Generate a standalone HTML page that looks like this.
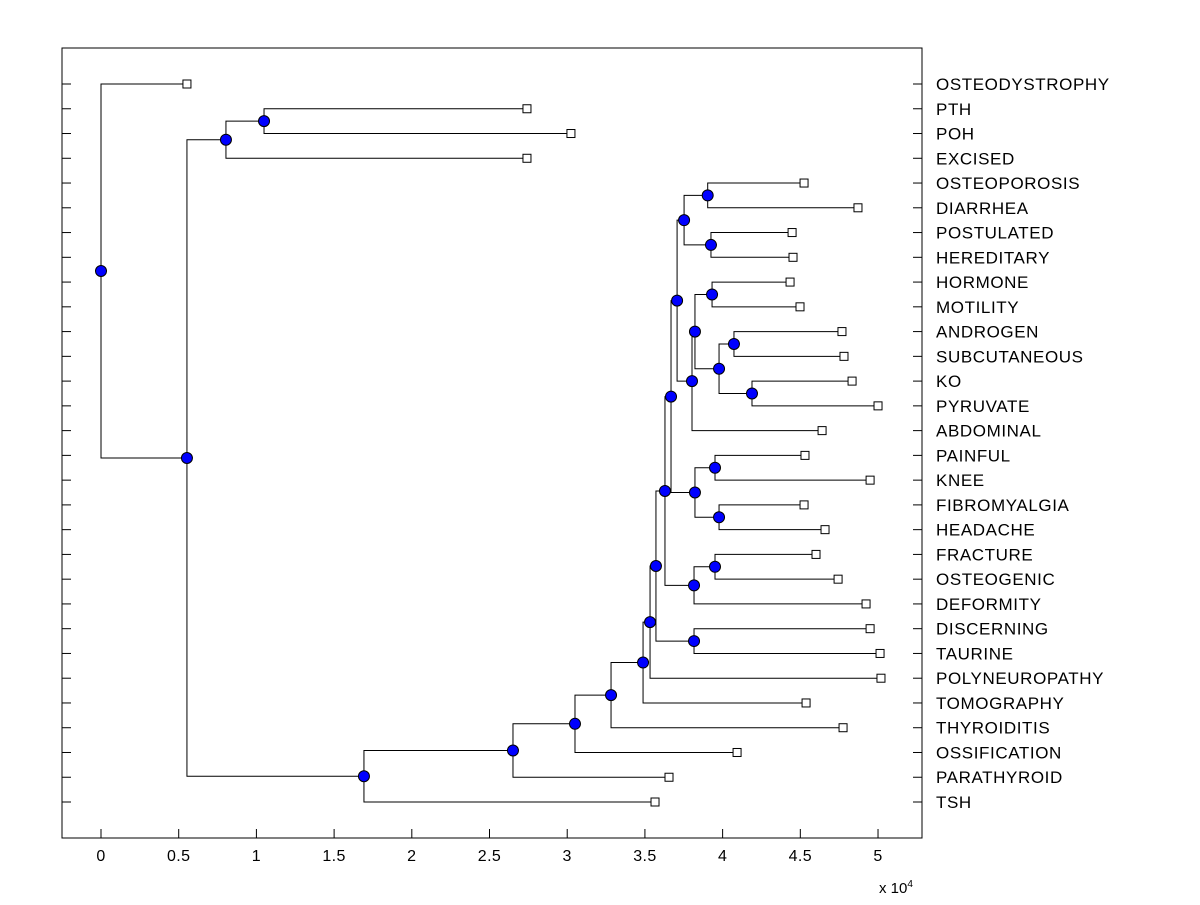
<!DOCTYPE html>
<html><head><meta charset="utf-8"><style>
body{margin:0;background:#fff;}
svg text{font-family:"Liberation Sans",sans-serif;}
</style></head><body>
<svg id="chart" width="1200" height="900" xmlns="http://www.w3.org/2000/svg">
<rect x="0" y="0" width="1200" height="900" fill="#fff"/>
<g id="plot"></g>
</svg>
<script>
const labels = ["OSTEODYSTROPHY","PTH","POH","EXCISED","OSTEOPOROSIS","DIARRHEA","POSTULATED","HEREDITARY","HORMONE","MOTILITY","ANDROGEN","SUBCUTANEOUS","KO","PYRUVATE","ABDOMINAL","PAINFUL","KNEE","FIBROMYALGIA","HEADACHE","FRACTURE","OSTEOGENIC","DEFORMITY","DISCERNING","TAURINE","POLYNEUROPATHY","TOMOGRAPHY","THYROIDITIS","OSSIFICATION","PARATHYROID","TSH"];
const leafHeights = [0.553,2.741,3.024,2.741,4.524,4.871,4.447,4.453,4.434,4.498,4.768,4.781,4.833,5.0,4.640,4.530,4.949,4.524,4.659,4.601,4.743,4.923,4.949,5.013,5.019,4.537,4.775,4.093,3.655,3.565];
const mergeLeft  = [1,30,4,6,32,8,10,12,36,35,39,34,15,17,42,41,19,46,45,22,48,50,51,52,53,54,55,31,0];
const mergeRight = [2,3,5,7,33,9,11,13,37,38,14,40,16,18,43,44,20,21,47,23,49,24,25,26,27,28,29,56,57];
const mergeHeights = [1.049,0.804,3.904,3.925,3.752,3.932,4.073,4.189,3.977,3.822,3.803,3.707,3.951,3.977,3.822,3.668,3.951,3.816,3.629,3.816,3.571,3.533,3.488,3.282,3.050,2.651,1.692,0.553,0];
const xTicks = [0,0.5,1,1.5,2,2.5,3,3.5,4,4.5,5];
const xTickLabels = ["0","0.5","1","1.5","2","2.5","3","3.5","4","4.5","5"];

const L=62,R=922,T=48,B=838;
const xMin=-0.251,xMax=5.283;
const X=v=>L+(v-xMin)/(xMax-xMin)*(R-L);
const row0=84,rowStep=(802-84)/29;
const Y=i=>row0+i*rowStep;
const NS="http://www.w3.org/2000/svg";
const g=document.getElementById('plot');
function mk(tag,attrs){const e=document.createElementNS(NS,tag);for(const k in attrs)e.setAttribute(k,attrs[k]);g.appendChild(e);return e;}

const n=labels.length;
const nx=[],ny=[];
for(let i=0;i<n;i++){nx[i]=leafHeights[i];ny[i]=Y(i);}
for(let k=0;k<mergeHeights.length;k++){const a=mergeLeft[k],b=mergeRight[k];nx[n+k]=mergeHeights[k];ny[n+k]=(ny[a]+ny[b])/2;}

for(let k=0;k<mergeHeights.length;k++){
  const a=mergeLeft[k],b=mergeRight[k],hx=X(mergeHeights[k]);
  const p=mk('path',{d:`M${X(nx[a])},${ny[a]}H${hx}V${ny[b]}H${X(nx[b])}`,fill:'none',stroke:'#000','stroke-width':1});
  
  
}
const box=mk('rect',{x:L,y:T,width:R-L,height:B-T,fill:'none',stroke:'#000','stroke-width':1});


xTicks.forEach((v,i)=>{
  const x=X(v);
  const t1=mk('line',{x1:x,y1:B,x2:x,y2:B-9,stroke:'#000'});
  
  
  const tl=mk('text',{x:x,y:861,'text-anchor':'middle','font-size':16,'letter-spacing':0.4});
  tl.textContent=xTickLabels[i];
  
  
});
labels.forEach((lab,i)=>{
  const y=Y(i);
  const a=mk('line',{x1:L,y1:y,x2:L+9,y2:y,stroke:'#000'});
  
  
  const b=mk('line',{x1:R,y1:y,x2:R-9,y2:y,stroke:'#000'});
  
  
  const t=mk('text',{x:936,y:y+6,'font-size':17,'letter-spacing':0.6});
  t.textContent=lab;
  
  
});
for(let i=0;i<n;i++){
  const s=mk('rect',{x:X(nx[i])-4,y:ny[i]-4,width:8,height:8,fill:'#fff',stroke:'#000','stroke-width':1});
  
  
}
for(let k=0;k<mergeHeights.length;k++){
  const c=mk('circle',{cx:X(nx[n+k]),cy:ny[n+k],r:5.5,fill:'#0000ff',stroke:'#000','stroke-width':1});
  
  
}
const ex=mk('text',{x:879,y:893,'font-size':15});
ex.innerHTML='x 10<tspan dy="-6" font-size="10">4</tspan>';


</script>
</body></html>
